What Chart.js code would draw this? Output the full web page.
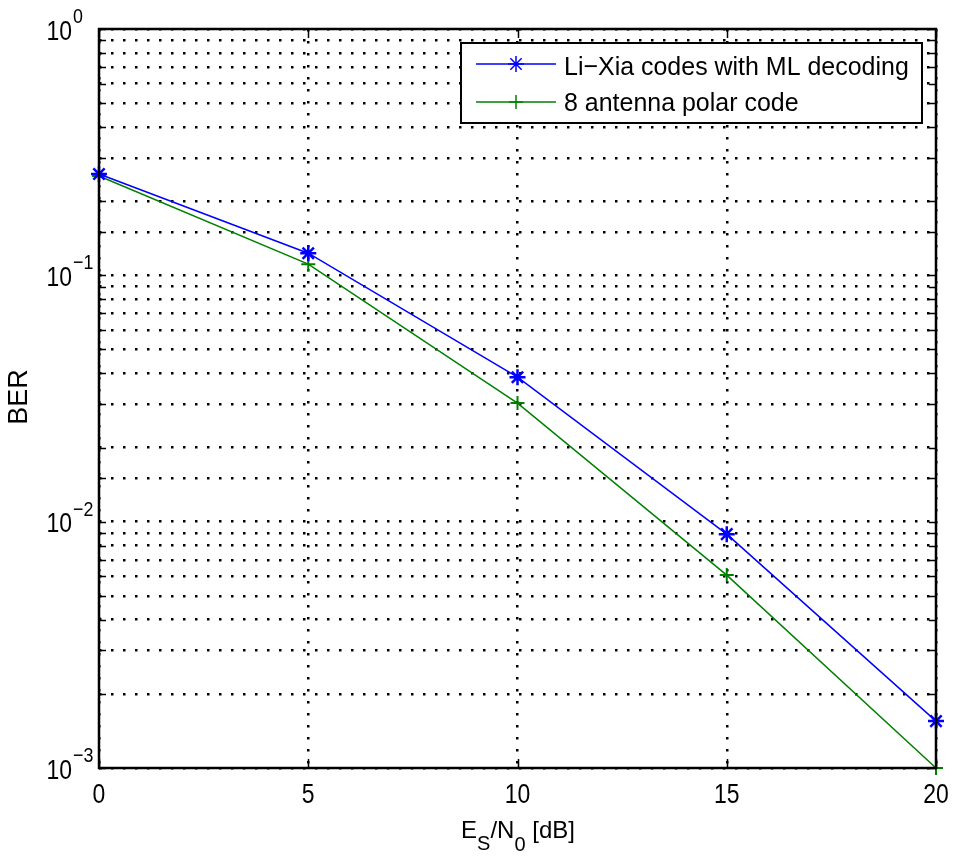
<!DOCTYPE html>
<html>
<head>
<meta charset="utf-8">
<script src="https://cdn.jsdelivr.net/npm/chart.js@4.4.0/dist/chart.umd.min.js"></script>
<style>
  html, body { margin: 0; padding: 0; background: #fff; }
  #wrap { width: 955px; height: 857px; }
</style>
</head>
<body>
<div id="wrap"><canvas id="berChart" width="955" height="857"></canvas></div>
<script>
// values
const snr = [0, 5, 10, 15, 20];
const berLiXia = [0.258, 0.123, 0.0386, 0.0089, 0.00155];
const berPolar = [0.253, 0.111, 0.0303, 0.00607, 0.001];
const xTicks = [0, 5, 10, 15, 20];
const yExponents = [0, -1, -2, -3];
const seriesNames = ['Li\u2212Xia codes with ML decoding', '8 antenna polar code'];

const FONT = "'Liberation Sans', Arial, sans-serif";

function pts(ys) {
  return snr.map((x, i) => ({ x: x, y: ys[i] }));
}

// text squeezed a bit horizontally, the original font is narrower
function narrowText(c, txt, x, y, size, align, sx) {
  c.save();
  c.font = size + 'px ' + FONT;
  const w = c.measureText(txt).width * sx;
  let x0 = x;
  if (align === 'center') x0 = x - w / 2;
  else if (align === 'right') x0 = x - w;
  c.translate(x0, y);
  c.scale(sx, 1);
  c.textAlign = 'left';
  c.textBaseline = 'alphabetic';
  c.fillText(txt, 0, 0);
  c.restore();
  return w;
}

// draws the box, tick labels, axis titles and legend like matlab does
const matlabLook = {
  id: 'matlabLook',
  afterDraw(chart) {
    const c = chart.ctx;
    const a = chart.chartArea;
    const xs = chart.scales.x, ys = chart.scales.y;
    c.save();

    // small inward ticks
    c.strokeStyle = '#000';
    c.lineWidth = 1.5;
    c.beginPath();
    ys.ticks.forEach(t => {
      const py = Math.round(ys.getPixelForValue(t.value)) + 0.5;
      const len = 7;
      c.moveTo(a.left, py); c.lineTo(a.left + len, py);
      c.moveTo(a.right, py); c.lineTo(a.right - len, py);
    });
    xTicks.forEach(v => {
      const px = Math.round(xs.getPixelForValue(v)) + 0.5;
      c.moveTo(px, a.top); c.lineTo(px, a.top + 9);
      c.moveTo(px, a.bottom); c.lineTo(px, a.bottom - 9);
    });
    c.stroke();

    // box
    c.lineWidth = 2.5;
    c.strokeRect(a.left, a.top, a.right - a.left, a.bottom - a.top);

    // x tick labels
    c.fillStyle = '#000';
    xTicks.forEach(v => {
      narrowText(c, String(v), xs.getPixelForValue(v), a.bottom + 35, 27, 'center', 0.85);
    });

    // y tick labels 10^n
    yExponents.forEach(e => {
      const py = ys.getPixelForValue(Math.pow(10, e));
      narrowText(c, '10', 72, py + 10.5, 27, 'right', 0.85);
      narrowText(c, e === 0 ? '0' : '\u2212' + Math.abs(e), 73, py - 6, 21, 'left', 0.85);
    });

    // y title
    c.save();
    c.translate(27, 397);
    c.rotate(-Math.PI / 2);
    c.font = '27px ' + FONT;
    c.textAlign = 'center';
    c.textBaseline = 'alphabetic';
    c.fillText('BER', 0, 0);
    c.restore();

    // x title: E_S/N_0 [dB]
    const parts = [
      ['E', 24, 0], ['S', 20, 12], ['/N', 24, 0], ['0', 20, 13], [' [dB]', 24, 0]
    ];
    let total = 0;
    parts.forEach(p => { c.font = p[1] + 'px ' + FONT; total += c.measureText(p[0]).width; });
    let cx = 518 - total / 2;
    parts.forEach(p => {
      cx += narrowText(c, p[0], cx, 838 + p[2], p[1], 'left', 1);
    });

    // legend
    const lx = 461, ly = 43, lw = 461, lh = 80;
    c.fillStyle = '#fff';
    c.fillRect(lx, ly, lw, lh);
    c.lineWidth = 2;
    c.strokeStyle = '#000';
    c.strokeRect(lx, ly, lw, lh);
    const rows = [64, 102];
    const baselines = [75, 111];
    chart.data.datasets.forEach((ds, i) => {
      const yy = rows[i];
      c.strokeStyle = ds.borderColor;
      c.lineWidth = 1.5;
      c.beginPath();
      c.moveTo(476, yy); c.lineTo(556, yy);
      c.stroke();
      Chart.helpers.drawPoint(c, {
        pointStyle: ds.pointStyle, radius: ds.pointRadius, borderWidth: ds.pointBorderWidth
      }, 516, yy);
      c.fillStyle = '#000';
      narrowText(c, seriesNames[i], 564, baselines[i], 26, 'left', 0.96);
    });

    c.restore();
  }
};

const ctx = document.getElementById('berChart').getContext('2d');
const berChart = new Chart(ctx, {
  type: 'line',
  data: {
    datasets: [{
      label: seriesNames[0],
      data: pts(berLiXia),
      borderColor: '#0000ff',
      backgroundColor: '#0000ff',
      borderWidth: 1.5,
      pointStyle: 'star',
      pointRadius: 8,
      pointBorderWidth: 2.5,
      pointBorderColor: '#0000ff',
      fill: false,
      tension: 0
    }, {
      label: seriesNames[1],
      data: pts(berPolar),
      borderColor: '#008000',
      backgroundColor: '#008000',
      borderWidth: 1.5,
      pointStyle: 'cross',
      pointRadius: 7,
      pointBorderWidth: 2,
      pointBorderColor: '#008000',
      fill: false,
      tension: 0
    }]
  },
  options: {
    responsive: false,
    animation: false,
    clip: false,
    layout: { padding: { left: 99, right: 19, top: 29, bottom: 89 } },
    plugins: { legend: { display: false }, tooltip: { enabled: false } },
    scales: {
      x: {
        type: 'linear', min: 0, max: 20,
        ticks: { display: false, stepSize: 5 },
        grid: { color: '#000', lineWidth: 2.5, drawTicks: false },
        border: { display: false, dash: [2.5, 9.5] }
      },
      y: {
        type: 'logarithmic', min: 0.001, max: 1,
        ticks: { display: false },
        grid: { color: '#000', lineWidth: 2.5, drawTicks: false },
        border: { display: false, dash: [2.5, 9.5] }
      }
    }
  },
  plugins: [matlabLook]
});
</script>
</body>
</html>
